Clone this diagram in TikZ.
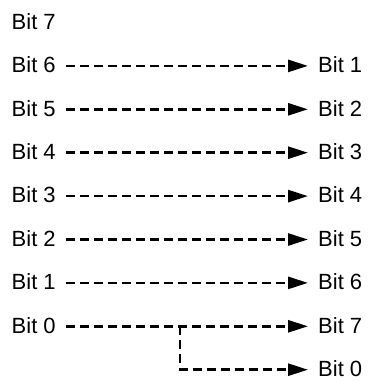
\documentclass[tikz,border=0pt]{standalone}
\usepackage{fontspec}
\setmainfont{Liberation Sans}
\usetikzlibrary{arrows.meta}
\begin{document}
\begin{tikzpicture}[x=1bp,y=-1bp,
  lbl/.style={anchor=west,inner sep=0pt,text height=15.5bp,text depth=2bp,
    font=\fontsize{22bp}{26bp}\selectfont},
  dline/.style={line width=2.7bp,dash pattern=on 9bp off 5bp,
    -{Triangle[length=20bp,width=12bp]}},
  fromleft/.style={shorten <=10bp},
  toright/.style={shorten >=10bp}]
\useasboundingbox (0,0) rectangle (368,382);
% left labels
\node[lbl] (l7) at (11.5,22.5) {Bit 7};
\node[lbl] (l6) at (11.5,65.9) {Bit 6};
\node[lbl] (l5) at (11.5,109.3) {Bit 5};
\node[lbl] (l4) at (11.5,152.7) {Bit 4};
\node[lbl] (l3) at (11.5,196.1) {Bit 3};
\node[lbl] (l2) at (11.5,239.5) {Bit 2};
\node[lbl] (l1) at (11.5,282.9) {Bit 1};
\node[lbl] (l0) at (11.5,326.3) {Bit 0};
% right labels
\node[lbl] (r1) at (318,65.9) {Bit 1};
\node[lbl] (r2) at (318,109.3) {Bit 2};
\node[lbl] (r3) at (318,152.7) {Bit 3};
\node[lbl] (r4) at (318,196.1) {Bit 4};
\node[lbl] (r5) at (318,239.5) {Bit 5};
\node[lbl] (r6) at (318,282.9) {Bit 6};
\node[lbl] (r7) at (318,326.3) {Bit 7};
\node[lbl] (r0) at (318,369.7) {Bit 0};
% connectors
\draw[dline,fromleft,toright] (l6.east) -- (r1.west);
\draw[dline,fromleft,toright] (l5.east) -- (r2.west);
\draw[dline,fromleft,toright] (l4.east) -- (r3.west);
\draw[dline,fromleft,toright] (l3.east) -- (r4.west);
\draw[dline,fromleft,toright] (l2.east) -- (r5.west);
\draw[dline,fromleft,toright] (l1.east) -- (r6.west);
\draw[dline,fromleft,toright] (l0.east) -- (r7.west);
\coordinate (j) at (180,326.3);
\draw[dline,toright] (j) |- (r0.west);
\end{tikzpicture}
\end{document}
